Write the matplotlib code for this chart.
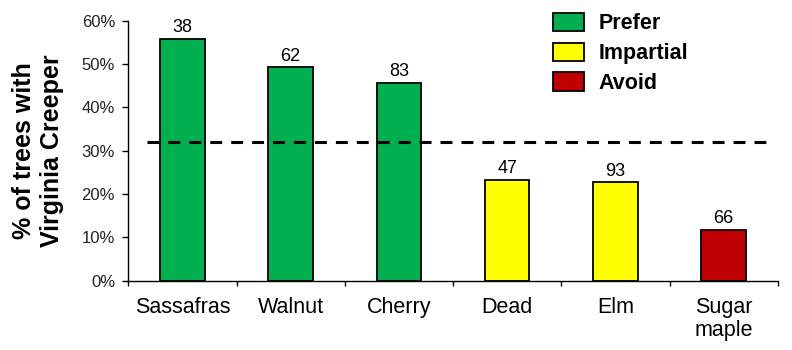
import matplotlib
matplotlib.use("Agg")
import matplotlib.pyplot as plt
from matplotlib.patches import Patch
from matplotlib.ticker import FixedLocator, PercentFormatter

plt.rcParams['font.family'] = ['Liberation Sans', 'DejaVu Sans']

categories = ["Sassafras", "Walnut", "Cherry", "Dead", "Elm", "Sugar\nmaple"]
percent_with_creeper = [55.8, 49.2, 45.6, 23.3, 22.7, 11.8]
sample_sizes = [38, 62, 83, 47, 93, 66]
preference = ["Prefer", "Prefer", "Prefer", "Impartial", "Impartial", "Avoid"]
overall_rate = 32.1

colors = {"Prefer": "#00B050", "Impartial": "#FFFF00", "Avoid": "#C00000"}

fig = plt.figure(figsize=(7.92, 3.5), dpi=100)
ax = fig.add_axes([0.162, 0.198, 0.82, 0.743])

x = list(range(len(categories)))
ax.bar(x, percent_with_creeper, width=0.41,
       color=[colors[p] for p in preference],
       edgecolor="black", linewidth=1.3, zorder=2)

for xi, h, n in zip(x, percent_with_creeper, sample_sizes):
    ax.annotate(str(n), (xi, h), xytext=(0, 2), textcoords="offset points",
                ha="center", va="bottom", fontsize=13)

ax.plot([-0.33, 5.43], [overall_rate, overall_rate], color="black",
        linestyle=(0, (3.9, 2.95)), linewidth=2.2, zorder=3)

ax.set_xlim(-0.5, len(categories) - 0.5)
ax.set_ylim(0, 60)
ax.yaxis.set_major_locator(FixedLocator(range(0, 61, 10)))
ax.yaxis.set_major_formatter(PercentFormatter(decimals=0))

ax.set_xticks(x)
ax.set_xticklabels(categories, fontsize=15.5, linespacing=1.12)
ax.tick_params(axis="x", which="major", length=0, pad=12)
ax.set_xticks([i - 0.5 for i in range(len(categories) + 1)], minor=True)
ax.tick_params(axis="x", which="minor", length=3.5, direction="out", width=1)
ax.tick_params(axis="y", length=4.5, direction="out", width=1, labelsize=12,
               labelcolor="#222222", pad=5)

for side in ("top", "right"):
    ax.spines[side].set_visible(False)
for side in ("left", "bottom"):
    ax.spines[side].set_linewidth(1.0)

ax.set_ylabel("% of trees with\nVirginia Creeper", fontsize=18,
              fontweight="bold", labelpad=13, linespacing=1.2)

handles = [Patch(facecolor=colors[k], edgecolor="black", linewidth=1.3, label=k)
           for k in ("Prefer", "Impartial", "Avoid")]
ax.legend(handles=handles, loc="upper left", bbox_to_anchor=(0.654, 1.03),
          frameon=False, prop={"weight": "bold", "size": 15.5},
          handlelength=1.45, handleheight=0.93, labelspacing=0.38,
          handletextpad=0.65, borderaxespad=0, borderpad=0)

fig.savefig("out.png", dpi=100, facecolor="white")
